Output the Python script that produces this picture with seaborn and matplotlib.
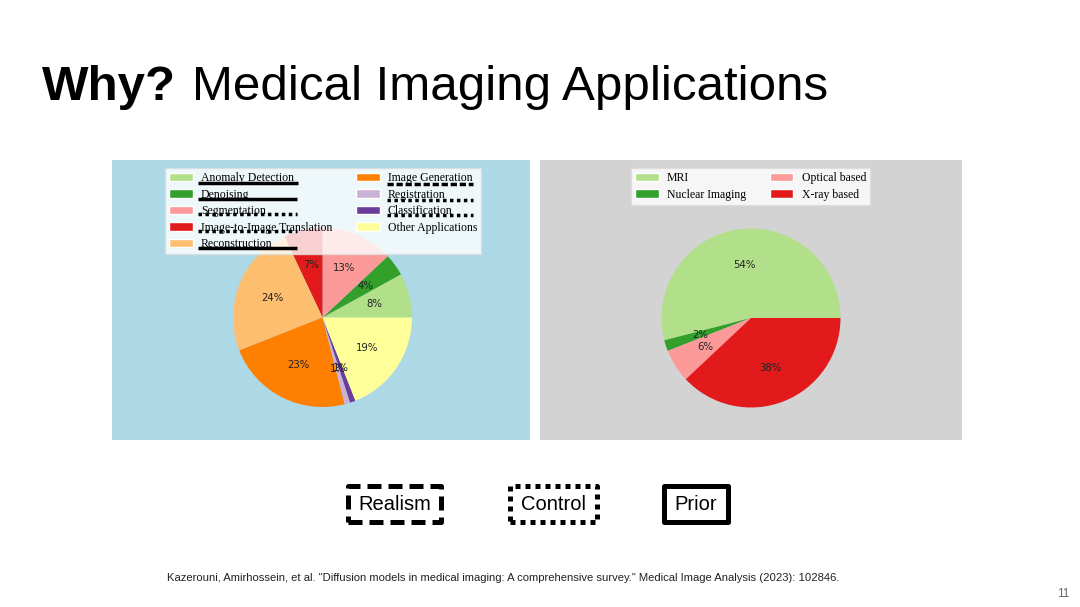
import matplotlib
matplotlib.use("Agg")
import matplotlib.pyplot as plt
import seaborn as sns
from matplotlib.patches import Rectangle, Patch
from matplotlib.lines import Line2D

# ---- data ----
app_labels = ["Anomaly Detection", "Denoising", "Segmentation", "Image-to-Image Translation",
              "Reconstruction", "Image Generation", "Registration", "Classification",
              "Other Applications"]
app_values = [8, 4, 13, 7, 24, 23, 1, 1, 19]

mod_labels = ["MRI", "Nuclear Imaging", "Optical based", "X-ray based"]
mod_values = [54, 2, 6, 38]

title_bold = "Why?"
title_rest = "Medical Imaging Applications"
box_labels = ["Realism", "Control", "Prior"]
citation = ('Kazerouni, Amirhossein, et al. "Diffusion models in medical imaging: '
            'A comprehensive survey." Medical Image Analysis (2023): 102846.')
page_no = "11"

sns.set_theme(style="white")
plt.rcParams["font.family"] = ["Liberation Sans", "DejaVu Sans"]
plt.rcParams["text.color"] = "black"

W, H = 1080, 607
fig = plt.figure(figsize=(W / 100, H / 100), dpi=100)
fig.patch.set_facecolor("white")


def fx(x):
    return x / W


def fy(y):
    return 1 - y / H


def rect_px(x0, y0, x1, y1):
    return [fx(x0), fy(y1), (x1 - x0) / W, (y1 - y0) / H]


# panel backgrounds
fig.add_artist(Rectangle((fx(112), fy(440)), (530 - 112) / W, (440 - 160) / H,
                         transform=fig.transFigure, facecolor="#add8e6", edgecolor="none", zorder=0))
fig.add_artist(Rectangle((fx(540), fy(440)), (962 - 540) / W, (440 - 160) / H,
                         transform=fig.transFigure, facecolor="#d3d3d3", edgecolor="none", zorder=0))

paired = sns.color_palette("Paired", 12)
app_colors = paired[2:11]
mod_colors = paired[2:6]

R = 89.5
size = R * 2.5
pct_props = {"fontsize": 7.3, "family": "DejaVu Sans", "color": "#222222"}
cx, cy = 322.5, 317.5
ax1 = fig.add_axes(rect_px(cx - size / 2, cy - size / 2, cx + size / 2, cy + size / 2))
ax1.pie(app_values, colors=app_colors, autopct="%1.0f%%", startangle=0,
        wedgeprops={"linewidth": 0, "edgecolor": "none"}, textprops=pct_props)
ax1.set_zorder(1)

cx2, cy2 = 751, 318
ax2 = fig.add_axes(rect_px(cx2 - size / 2, cy2 - size / 2, cx2 + size / 2, cy2 + size / 2))
ax2.pie(mod_values, colors=mod_colors, autopct="%1.0f%%", startangle=0,
        wedgeprops={"linewidth": 0, "edgecolor": "none"}, textprops=pct_props)
ax2.set_zorder(1)

# legends
leg_kw = dict(ncol=2, loc="upper left", bbox_transform=fig.transFigure,
              prop={"family": "Liberation Serif", "size": 8.5},
              frameon=True, framealpha=0.8, facecolor="white", edgecolor="#dddddd",
              fancybox=False, borderaxespad=0, labelspacing=0.38, columnspacing=2.0,
              handlelength=2.0, handletextpad=0.7, borderpad=0.35)
h1 = [Patch(facecolor=c, label=l) for c, l in zip(app_colors, app_labels)]
leg1 = fig.legend(handles=h1, bbox_to_anchor=(fx(165), fy(168)), **leg_kw)
leg1.set_zorder(5)
h2 = [Patch(facecolor=c, label=l) for c, l in zip(mod_colors, mod_labels)]
leg2 = fig.legend(handles=h2, bbox_to_anchor=(fx(631), fy(168)), **leg_kw)
leg2.set_zorder(5)

# underline annotations on legend
styles = {"solid": "-", "dotted": (0, (1, 1)), "dashed": (0, (1.8, 0.8))}
marks = [(198, 298, 183, "solid"), (198, 297, 199, "solid"), (198, 297, 214, "dotted"),
         (198, 297, 231, "dotted"), (198, 297, 248, "solid"),
         (387, 473, 184, "dashed"), (387, 473, 200, "dotted"), (387, 473, 215, "dotted")]
for x0, x1, y, st in marks:
    fig.add_artist(Line2D([fx(x0), fx(x1)], [fy(y), fy(y)], transform=fig.transFigure,
                          color="black", lw=2.5, linestyle=styles[st], zorder=10,
                          solid_capstyle="butt", dash_capstyle="butt"))

# title
fig.text(fx(42), fy(100), title_bold, fontsize=35.5, fontweight="bold", va="baseline", ha="left")
fig.text(fx(192), fy(100), title_rest, fontsize=35.5, va="baseline", ha="left")

# boxes
box_specs = [(348, 441, 486, 522, (0, (2.8, 1.4)), 3.6, box_labels[0]),
             (510, 597, 486, 522, (0, (1, 1)), 3.6, box_labels[1]),
             (664, 728, 486, 522, "-", 3.6, box_labels[2])]
for x0, x1, y0, y1, ls, lw, lab in box_specs:
    fig.add_artist(Rectangle((fx(x0), fy(y1)), (x1 - x0) / W, (y1 - y0) / H,
                             transform=fig.transFigure, facecolor="none", edgecolor="black",
                             lw=lw, linestyle=ls, joinstyle="round"))
    fig.text(fx((x0 + x1) / 2), fy((y0 + y1) / 2 + 1), lab, fontsize=14.5, ha="center", va="center")

fig.text(fx(167), fy(581), citation, fontsize=8.1, ha="left", va="baseline", color="#222222")
fig.text(fx(1069), fy(597), page_no, fontsize=8.5, ha="right", va="baseline", color="#666666")

fig.savefig("out.png", dpi=100, facecolor="white")
